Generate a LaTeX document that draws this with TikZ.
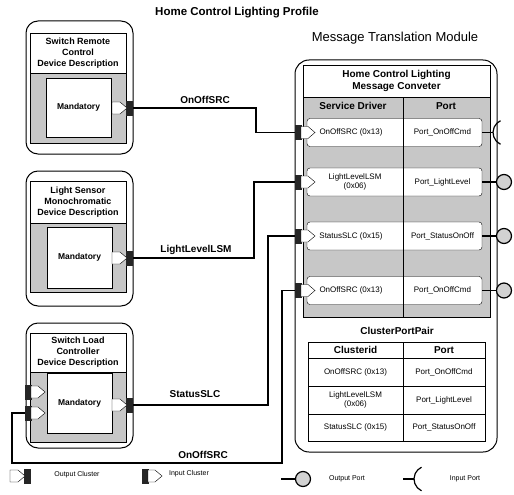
\documentclass[tikz,border=0pt]{standalone}
\usepackage{fontspec}
\setmainfont{Liberation Sans}

\tikzset{
  % cluster and port symbols
  pics/outclus/.style={code={
    \fill[black!85] (-7,-7.5) rectangle (0,7.5);
    \draw[fill=white] (-21,-6) -- (-13,-6) -- (-6,0) -- (-13,6) -- (-21,6) -- cycle;
    \coordinate (-tip) at (0,0);
  }},
  pics/inclus/.style={code={
    \fill[black!85] (0,-7.5) rectangle (7,7.5);
    \draw[fill=white] (6,-6) -- (13,-6) -- (20,0) -- (13,6) -- (6,6) -- cycle;
    \coordinate (-tip) at (0,0);
  }},
  pics/outport/.style={code={
    \draw[line width=1.2pt] (0,0) -- (15,0);
    \draw[line width=1.2pt, fill=gray!35] (22,0) circle[radius=7.5];
    \coordinate (-tip) at (0,0);
  }},
  pics/inport/.style={code={
    \draw[line width=1.2pt] (0,0) -- (11,0);
    \draw[line width=1.2pt] (18.5,11.8) arc[start angle=115, end angle=245, radius=13];
    \coordinate (-tip) at (0,0);
  }}
}

\begin{document}
\begin{tikzpicture}[x=1pt, y=-1pt,
  container/.style={line width=1pt, rounded corners=12pt},
  devtitle/.style={draw, fill=white, minimum width=96pt, align=center, inner sep=1pt,
    font=\fontsize{9}{11}\selectfont\bfseries},
  mand/.style={draw, fill=white, minimum width=65pt, font=\fontsize{8.5}{10}\selectfont\bfseries},
  wire/.style={line width=1.4pt},
  wirelbl/.style={font=\fontsize{10}{12}\selectfont\bfseries},
  hdr/.style={font=\fontsize{10}{12}\selectfont\bfseries, align=center},
  rowbox/.style={draw, fill=white, rounded corners=3pt, minimum width=175pt, minimum height=28pt},
  rowtxt/.style={font=\fontsize{8}{9.5}\selectfont, align=center},
  legtxt/.style={font=\fontsize{7}{8}\selectfont}]
  % Colors
  \definecolor{panel}{gray}{0.78}   % stippled grey areas

  \useasboundingbox (0,0) rectangle (514,495);

  % Titles
  \node[font=\fontsize{11.5}{14}\selectfont\bfseries] (title) at (237,13) {Home Control Lighting Profile};
  \node[font=\fontsize{13}{15}\selectfont] (mtm) at (395,38) {Message Translation Module};

  % Device descriptions
  \draw[container] (26,21) rectangle (133,154);
  \draw[fill=panel] (30,73) rectangle (126,143);
  \node[devtitle, minimum height=40pt] (srctitle) at (78,53) {Switch Remote\\Control\\Device Description};
  \node[mand, minimum height=59pt] (srcmand) at (78.5,107.5) {Mandatory};
  \pic (srcout) at (133,108) {outclus};

  \draw[container] (26,171) rectangle (133,306);
  \draw[fill=panel] (30,223) rectangle (126,292);
  \node[devtitle, minimum height=42pt] (lsmtitle) at (78,202) {Light Sensor\\Monochromatic\\Device Description};
  \node[mand, minimum height=61pt] (lsmmand) at (79.5,257.5) {Mandatory};
  \pic (lsmout) at (133,258) {outclus};

  \draw[container] (26,323) rectangle (133,448);
  \draw[fill=panel] (30,372) rectangle (126,442);
  \node[devtitle, minimum height=39pt] (slctitle) at (78,352.5) {Switch Load\\Controller\\Device Description};
  \node[mand, minimum height=60pt] (slcmand) at (79.5,403) {Mandatory};
  \pic (slcout) at (133,405) {outclus};
  \pic (slcin1) at (25,392) {inclus};
  \pic (slcin2) at (25,413) {inclus};

  % Message translation module
  \draw[container, rounded corners=14pt] (295,60) rectangle (497,452);
  \draw[fill=panel] (303,97) rectangle (490,317);
  \node[draw, fill=white, minimum width=187pt, minimum height=32pt, hdr] (conv) at (396.5,81) {Home Control Lighting\\Message Conveter};
  \node[hdr] (sdhead) at (353,106) {Service Driver};
  \node[hdr] (pthead) at (446,106) {Port};

  \node[rowbox] (row1) at (394.5,132.5) {};
  \node[rowbox] (row2) at (394.5,182) {};
  \node[rowbox] (row3) at (394.5,236) {};
  \node[rowbox] (row4) at (394.5,290.5) {};
  \draw (403,97) -- (403,317);

  \node[rowtxt] (c1) at (351,132.5) {OnOffSRC (0x13)};
  \node[rowtxt] (p1) at (442.5,132.5) {Port\_OnOffCmd};
  \node[rowtxt] (c2) at (355,182) {LightLevelLSM\\(0x06)};
  \node[rowtxt] (p2) at (442.5,182) {Port\_LightLevel};
  \node[rowtxt] (c3) at (351,236) {StatusSLC (0x15)};
  \node[rowtxt] (p3) at (442.5,236) {Port\_StatusOnOff};
  \node[rowtxt] (c4) at (351,290.5) {OnOffSRC (0x13)};
  \node[rowtxt] (p4) at (442.5,290.5) {Port\_OnOffCmd};

  \pic (in1) at (295,132.5) {inclus};
  \pic (in2) at (295,182) {inclus};
  \pic (in3) at (295,236) {inclus};
  \pic (in4) at (295,290.5) {inclus};
  \pic (port1) at (482,132.5) {inport};
  \pic (port2) at (482,182) {outport};
  \pic (port3) at (482,236) {outport};
  \pic (port4) at (482,290.5) {outport};

  % ClusterPortPair table
  \node[hdr] (cpp) at (397,331) {ClusterPortPair};
  \draw (308,342) rectangle (485,441);
  \draw (403,342) -- (403,441);
  \draw (308,358) -- (485,358);
  \draw (308,386) -- (485,386);
  \draw (308,414) -- (485,414);
  \node[hdr] (cidhead) at (355.5,350) {Clusterid};
  \node[hdr] (cpthead) at (444,350) {Port};
  \node[rowtxt] (t1) at (355.5,372) {OnOffSRC (0x13)};
  \node[rowtxt] (tp1) at (444,372) {Port\_OnOffCmd};
  \node[rowtxt] (t2) at (355.5,400) {LightLevelLSM\\(0x06)};
  \node[rowtxt] (tp2) at (444,400) {Port\_LightLevel};
  \node[rowtxt] (t3) at (355.5,427.5) {StatusSLC (0x15)};
  \node[rowtxt] (tp3) at (444,427.5) {Port\_StatusOnOff};

  % Connections
  \coordinate (loop) at (12,463);
  \draw[wire] (srcout-tip) -- ++(123,0) |- (in1-tip);
  \draw[wire] (lsmout-tip) -- ++(121,0) |- (in2-tip);
  \draw[wire] (slcout-tip) -- ++(135,0) |- (in3-tip);
  \draw[wire] (in4-tip) -- ++(-13,0) |- (loop) |- (slcin2-tip);
  \node[wirelbl] (l1) at (205,100) {OnOffSRC};
  \node[wirelbl] (l2) at (196,250) {LightLevelLSM};
  \node[wirelbl] (l3) at (195,394) {StatusSLC};
  \node[wirelbl] (l4) at (203,455) {OnOffSRC};

  % Legend
  \pic (legoc) at (31,476) {outclus};
  \node[legtxt] (legoctxt) at (77,475) {Output Cluster};
  \pic (legic) at (142,476) {inclus};
  \node[legtxt] (legictxt) at (189,474) {Input Cluster};
  \pic (legop) at (281,479) {outport};
  \node[legtxt] (legoptxt) at (347,479) {Output Port};
  \pic (legip) at (403,479) {inport};
  \node[legtxt] (legiptxt) at (465,479) {Input Port};
\end{tikzpicture}
\end{document}
